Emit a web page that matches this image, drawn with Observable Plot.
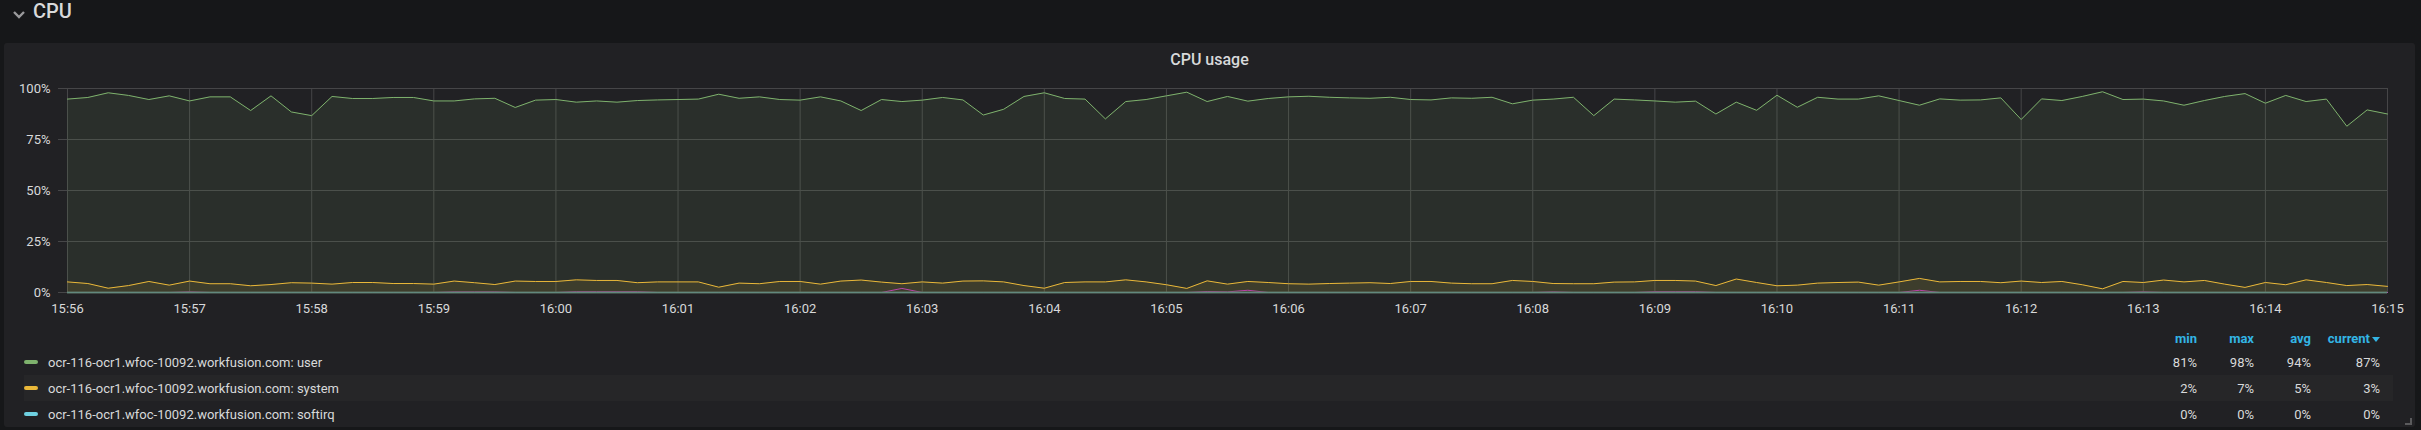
<!DOCTYPE html>
<html><head><meta charset="utf-8">
<script src="https://cdn.jsdelivr.net/npm/d3@7"></script>
<script src="https://cdn.jsdelivr.net/npm/@observablehq/plot@0.6"></script>
<style>
html,body{margin:0;padding:0;background:#161719;}
body{width:2421px;height:430px;overflow:hidden;position:relative;font-family:Roboto,"Noto Sans",sans-serif;color:#d8d9da;}
#chev{position:absolute;left:13px;top:11px;}
#rowtitle{position:absolute;left:33px;top:0;font-size:20px;font-weight:500;line-height:23px;color:#d8d9da;}
#panel{position:absolute;left:4px;top:43px;width:2411px;height:384px;background:#212124;border-radius:3px;}
#ptitle{position:absolute;left:0;top:7px;width:100%;text-align:center;font-size:16px;font-weight:500;line-height:20px;color:#d8d9da;}
#chart{position:absolute;left:0;top:32px;}
#legend{position:absolute;left:20px;top:284px;width:2369px;font-size:13px;}
.lrow{display:flex;align-items:center;height:26px;}
.lhead{height:22px;color:#33b5e5;font-weight:bold;}
.lrow.alt{background:#262628;}
.sw{width:14px;height:4px;border-radius:2px;margin-right:10px;flex:none;}
.lname{flex:1;white-space:nowrap;}
.lval{text-align:right;width:57px;flex:none;}
.lval.cur{width:69px;}
.pad{width:13px;flex:none;}
.caret{display:inline-block;width:0;height:0;border-left:4px solid transparent;border-right:4px solid transparent;border-top:5px solid #33b5e5;margin-left:2px;vertical-align:middle;}
.resize{position:absolute;right:3px;bottom:2px;width:5px;height:5px;border-right:2px solid #5a5a5c;border-bottom:2px solid #5a5a5c;}
#chart [aria-label^="y-axis"] line,
#chart [aria-label="y-axis tick"],
#chart [aria-label="y-axis tick"] path{stroke:#464648 !important;stroke-opacity:1 !important;}
</style>
</head>
<body>
<svg id="chev" width="12" height="8"><polyline points="1,1 6,6 11,1" fill="none" stroke="#9a9a9c" stroke-width="2.4"/></svg>
<div id="rowtitle">CPU</div>
<div id="panel">
  <div id="ptitle">CPU usage</div>
  <div id="chart"></div>
  <div id="legend"></div>
  <div class="resize"></div>
</div>
<script>
// ---- data (10 s samples from 15:56:00 to 16:15:00) ----
const user = [
94.8,95.6,97.9,96.6,94.6,96.4,93.9,95.9,95.9,89.2,96.4,88.5,86.7,96.1,95.1,95.1,95.6,95.6,93.9,93.9,94.9,95.2,90.7,94.3,94.6,
93.3,93.9,93.3,94.1,94.4,94.6,94.8,97.2,95.2,95.9,94.6,94.3,95.9,93.9,89.2,94.6,93.6,94.3,95.6,94.4,87.0,89.8,96.1,97.9,
95.1,94.8,85.1,93.6,94.6,96.4,98.2,93.6,96.1,93.8,95.1,95.9,96.2,95.7,95.4,95.2,95.7,94.6,94.4,95.4,95.2,95.7,92.5,94.3,
94.8,95.7,86.7,94.8,94.4,93.9,93.3,93.8,87.5,93.3,89.3,96.7,90.8,95.7,94.8,94.8,96.4,94.1,91.8,94.9,94.3,94.4,95.4,84.8,
94.9,94.1,96.1,98.4,94.6,94.8,93.9,91.8,94.1,96.1,97.5,92.8,96.6,93.6,94.8,81.5,89.5,87.5];
const system = [
5.2,4.4,2.1,3.4,5.4,3.6,5.6,4.3,4.3,3.3,3.9,4.8,4.6,4.1,4.9,4.9,4.4,4.4,4.1,5.6,4.8,3.9,5.6,5.4,5.4,
6.2,5.9,5.9,4.8,5.2,5.2,5.2,2.6,4.6,4.3,5.4,5.4,4.1,5.6,6.1,5.1,4.3,5.2,4.6,5.6,5.7,5.2,3.4,2.1,
4.9,5.2,5.2,6.2,5.2,3.8,2.0,5.7,4.1,5.4,4.9,4.3,4.1,4.4,4.6,4.8,4.4,5.4,5.4,4.6,4.3,4.3,5.9,5.4,
4.4,4.3,4.3,5.1,5.2,5.9,5.9,5.6,3.4,6.6,4.9,3.3,3.6,4.6,4.9,5.1,3.6,5.2,6.9,5.2,5.4,5.4,4.8,5.6,
4.9,5.4,3.8,1.8,5.4,4.9,6.1,5.2,5.9,4.1,2.5,4.9,3.8,6.2,4.9,3.4,3.9,3.0];
const softirq = [
0,0,0,0,0,0,0,0,0,0,0,0,0,0,0,0,0,0,0,0,0,0,0,0,0,
0,0,0,0,0,0,0,0,0,0,0,0,0,0,0,0,0,0,0,0,0,0,0,0,
0,0,0,0,0,0,0,0,0,0,0,0,0,0,0,0,0,0,0,0,0,0,0,0,
0,0,0,0,0,0,0,0,0,0,0,0,0,0,0,0,0,0,0,0,0,0,0,0,
0,0,0,0,0,0,0,0,0,0,0,0,0,0,0,0,0,0];
const iowait = [
0,0,0,0,0,0,0.3,0,0,0,0,0,0,0,0,0,0,0,0,0.3,0.3,0.3,0,0,0,
0.4,0.4,0.4,0.4,0,0,0,0,0,0,0,0,0,0,0,0,2.0,0,0,0,0,0,0,0,
0,0,0,0,0,0,0,0.5,0.3,1.1,0,0,0,0,0,0,0,0,0,0,0,0,0,0,
0.3,0,0,0,0,0.4,0.4,0.4,0,0,0,0,0,0,0,0,0,0,1.1,0,0,0,0,0,
0,0,0,0,0,0.3,0,0,0,0,0,0,0,0,0,0,0,0];
const startMs = Date.UTC(2019, 0, 1, 15, 56, 0);
const stepMs = 10000;
const yTicks = [0, 25, 50, 75, 100];

const legendNames = [
  "ocr-116-ocr1.wfoc-10092.workfusion.com: user",
  "ocr-116-ocr1.wfoc-10092.workfusion.com: system",
  "ocr-116-ocr1.wfoc-10092.workfusion.com: softirq"];
const legendMin = ["81%", "2%", "0%"];
const legendMax = ["98%", "7%", "0%"];
const legendAvg = ["94%", "5%", "0%"];
const legendCurrent = ["87%", "3%", "0%"];

const green = "#7EB26D", yellow = "#EAB839", cyan = "#6ED0E0", purple = "#BA43A9", gridColor = "#464648";
const legendColors = [green, yellow, cyan];

const rows = user.map((u, i) => ({
  time: new Date(startMs + i * stepMs), user: u, system: system[i], softirq: softirq[i], iowait: iowait[i]
}));
const xTicks = d3.utcMinute.range(new Date(startMs), new Date(startMs + 19 * 60000 + 1));

const chart = Plot.plot({
  width: 2411, height: 245,
  marginLeft: 63, marginRight: 28, marginTop: 13, marginBottom: 28,
  style: {background: "transparent", color: "#d8d9da", fontFamily: "Roboto, sans-serif", fontSize: "13px", overflow: "visible"},
  x: {type: "utc", domain: [xTicks[0], xTicks[xTicks.length - 1]], ticks: xTicks,
      tickFormat: d3.utcFormat("%H:%M"), tickSize: 0, tickPadding: 11, label: null},
  y: {domain: [0, 100], ticks: yTicks, tickFormat: d => d + "%", tickSize: 9, tickPadding: 8, label: null},
  marks: [
    Plot.ruleX(xTicks, {stroke: gridColor}),
    Plot.ruleY(yTicks, {stroke: gridColor}),
    Plot.frame({stroke: gridColor}),
    Plot.areaY(rows, {x: "time", y: "user", fill: green, fillOpacity: 0.1}),
    Plot.lineY(rows, {x: "time", y: "user", stroke: green, strokeWidth: 1}),
    Plot.areaY(rows, {x: "time", y: "system", fill: yellow, fillOpacity: 0.1}),
    Plot.lineY(rows, {x: "time", y: "system", stroke: yellow, strokeWidth: 1}),
    Plot.lineY(rows, {x: "time", y: "iowait", stroke: purple, strokeWidth: 1}),
    Plot.ruleY([0], {stroke: "#5f7766", strokeWidth: 2}),
    Plot.lineY(rows, {x: "time", y: "softirq", stroke: cyan, strokeWidth: 1, strokeOpacity: 0.2})
  ]
});
document.getElementById("chart").appendChild(chart);

// ---- legend table ----
const legend = document.getElementById("legend");
const head = document.createElement("div");
head.className = "lrow lhead";
head.innerHTML = '<div class="lname"></div><div class="lval">min</div><div class="lval">max</div><div class="lval">avg</div><div class="lval cur">current<span class="caret"></span></div><div class="pad"></div>';
legend.appendChild(head);
legendNames.forEach((name, i) => {
  const r = document.createElement("div");
  r.className = "lrow" + (i === 1 ? " alt" : "");
  r.innerHTML = '<div class="sw" style="background:' + legendColors[i] + '"></div>' +
    '<div class="lname">' + name + '</div>' +
    '<div class="lval">' + legendMin[i] + '</div>' +
    '<div class="lval">' + legendMax[i] + '</div>' +
    '<div class="lval">' + legendAvg[i] + '</div>' +
    '<div class="lval cur">' + legendCurrent[i] + '</div><div class="pad"></div>';
  legend.appendChild(r);
});
</script>
</body></html>
